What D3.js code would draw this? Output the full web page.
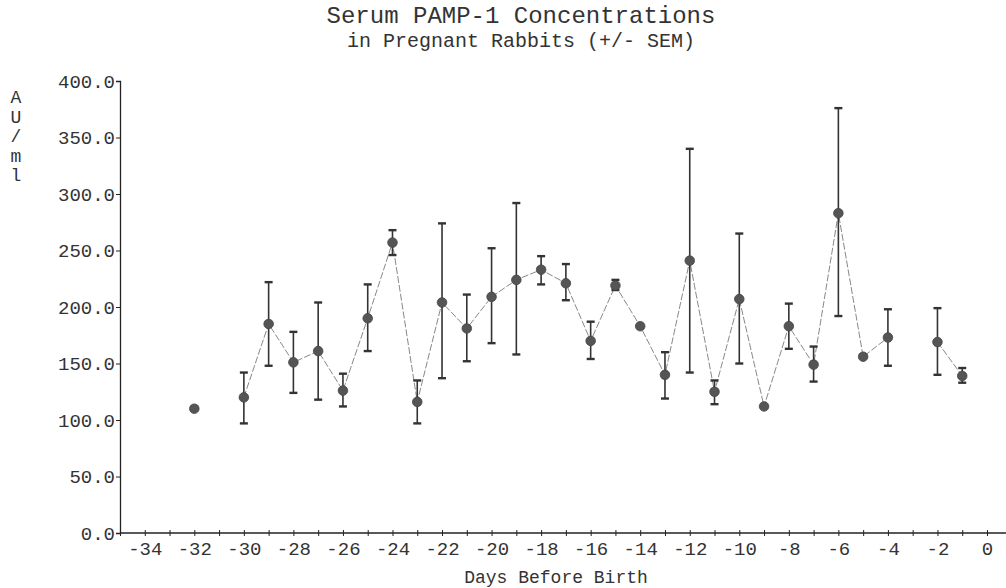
<!DOCTYPE html>
<html>
<head>
<meta charset="utf-8">
<script src="https://cdn.jsdelivr.net/npm/d3@7"></script>
<style>
  body { margin: 0; background: #fff; }
  text { font-family: "Liberation Mono", "DejaVu Sans Mono", monospace; fill: #333; }
</style>
</head>
<body>
<div id="canvas"></div>
<script>
const width = 1006;
const height = 588;

// days before birth that were sampled
const days = [-32, -30, -29, -28, -27, -26, -25, -24, -23, -22, -21, -20, -19, -18, -17,
              -16, -15, -14, -13, -12, -11, -10, -9, -8, -7, -6, -5, -4, -2, -1];
// mean concentration (AU/ml)
const means = [110, 120, 185, 151, 161, 126, 190, 257, 116, 204, 181, 209, 224, 233, 221,
               170, 219, 183, 140, 241, 125, 207, 112, 183, 149, 283, 156, 173, 169, 139];
// mean + SEM / mean - SEM (null = no error bar drawn)
const upper = [null, 142, 222, 178, 204, 141, 220, 268, 135, 274, 211, 252, 292, 245, 238,
               187, 224, null, 160, 340, 135, 265, null, 203, 165, 376, null, 198, 199, 146];
const lower = [null, 97, 148, 124, 118, 112, 161, 246, 97, 137, 152, 168, 158, 220, 206,
               154, 215, null, 119, 142, 114, 150, null, 163, 134, 192, null, 148, 140, 133];

const yTicks = [0, 50, 100, 150, 200, 250, 300, 350, 400];
const xTicks = d3.range(-35, 1);
const yLabel = ["A", "U", "/", "m", "l"];

const svg = d3.select("#canvas")
    .append("svg")
    .attr("width", width)
    .attr("height", height);

const x = d3.scaleLinear().domain([-35, 0]).range([120, 987]);
const y = d3.scaleLinear().domain([0, 400]).range([533, 81]);

const data = days.map((d, i) => ({day: d, mean: means[i], hi: upper[i], lo: lower[i]}));

// titles
svg.append("text")
    .attr("x", 521).attr("y", 23)
    .attr("text-anchor", "middle")
    .style("font-size", "24px")
    .text("Serum PAMP-1 Concentrations");

svg.append("text")
    .attr("x", 521).attr("y", 47)
    .attr("text-anchor", "middle")
    .style("font-size", "20px")
    .text("in Pregnant Rabbits (+/- SEM)");

// y axis
const yAxis = svg.append("g")
    .attr("transform", `translate(${x(-35)},0)`)
    .call(d3.axisLeft(y).tickValues(yTicks).tickFormat(d3.format(".1f")).tickSize(4).tickPadding(1));
yAxis.select(".domain").attr("stroke", "#222").attr("stroke-width", 1.3);
yAxis.selectAll(".tick line").attr("stroke", "#222");
yAxis.selectAll(".tick text").style("font-size", "19px").attr("fill", "#333");

svg.append("g").selectAll("text")
    .data(yLabel)
    .join("text")
    .attr("x", 16)
    .attr("y", (d, i) => 103 + i * 19.5)
    .attr("text-anchor", "middle")
    .style("font-size", "18px")
    .text(d => d);

// x axis
const xAxis = svg.append("g")
    .attr("transform", `translate(0,${y(0)})`)
    .call(d3.axisBottom(x).tickValues(xTicks)
        .tickFormat(d => d % 2 === 0 && d > -35 ? d : "")
        .tickSize(3).tickPadding(6));
xAxis.select(".domain").remove();
xAxis.append("line")
    .attr("x1", x(-35)).attr("x2", width)
    .attr("stroke", "#222").attr("stroke-width", 1.3);
xAxis.selectAll(".tick line").attr("y1", -3).attr("stroke", "#222");
xAxis.selectAll(".tick text").style("font-size", "19px").attr("fill", "#333");

svg.append("text")
    .attr("x", 556).attr("y", 583)
    .attr("text-anchor", "middle")
    .style("font-size", "18px")
    .text("Days Before Birth");

// connecting line, broken where a day is missing
const segments = [];
data.forEach((d, i) => {
    if (i === 0 || d.day - data[i - 1].day > 1) segments.push([]);
    segments[segments.length - 1].push(d);
});

const line = d3.line().x(d => x(d.day)).y(d => y(d.mean));

svg.append("g").selectAll("path")
    .data(segments.filter(s => s.length > 1))
    .join("path")
    .attr("d", line)
    .attr("fill", "none")
    .attr("stroke", "#888")
    .attr("stroke-width", 1)
    .attr("stroke-dasharray", "7,2");

// error bars
const bars = svg.append("g").selectAll("g")
    .data(data.filter(d => d.hi !== null))
    .join("g");

bars.append("line")
    .attr("x1", d => x(d.day)).attr("x2", d => x(d.day))
    .attr("y1", d => y(d.lo)).attr("y2", d => y(d.hi))
    .attr("stroke", "#333").attr("stroke-width", 1.6);

bars.selectAll(".cap")
    .data(d => [d.lo, d.hi].map(v => ({day: d.day, v: v})))
    .join("line")
    .attr("class", "cap")
    .attr("x1", d => x(d.day) - 4).attr("x2", d => x(d.day) + 4)
    .attr("y1", d => y(d.v)).attr("y2", d => y(d.v))
    .attr("stroke", "#333").attr("stroke-width", 2.4);

// points
svg.append("g").selectAll("circle")
    .data(data)
    .join("circle")
    .attr("cx", d => x(d.day))
    .attr("cy", d => y(d.mean))
    .attr("r", 4.8)
    .attr("fill", "#555")
    .attr("stroke", "#444")
    .attr("stroke-width", 0.8);
</script>
</body>
</html>
